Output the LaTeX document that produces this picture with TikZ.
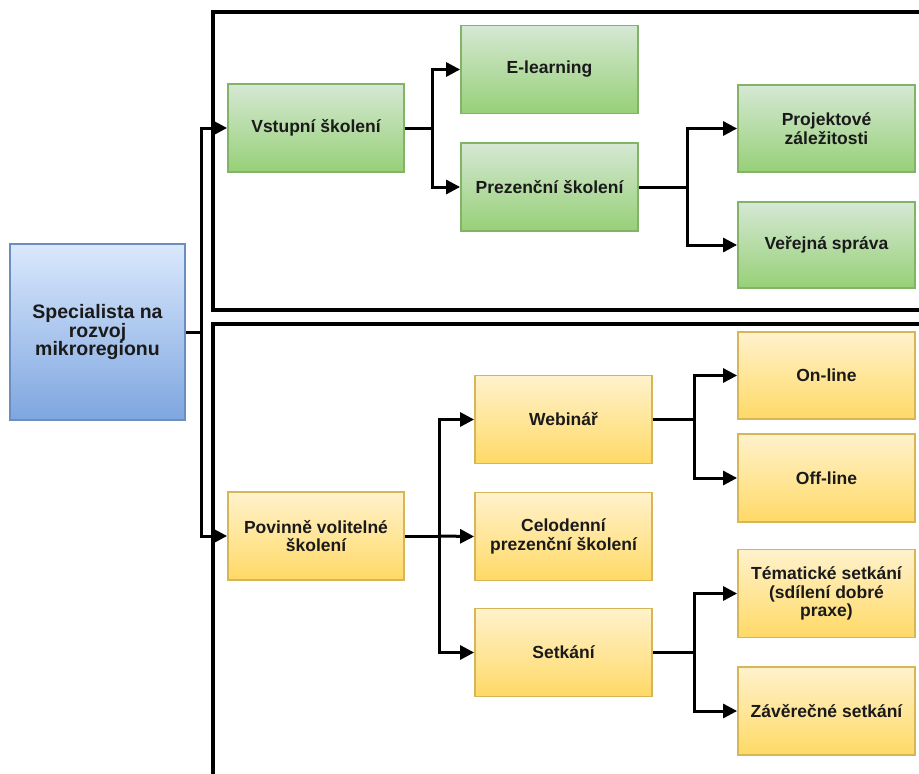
\documentclass[tikz,border=0pt]{standalone}
\usepackage{fontspec}
\setmainfont{Liberation Sans}
\usetikzlibrary{arrows.meta,positioning}
\definecolor{gtop}{HTML}{D5E8D4}
\definecolor{gbot}{HTML}{97D077}
\definecolor{gline}{HTML}{82B366}
\definecolor{ytop}{HTML}{FFF2CC}
\definecolor{ybot}{HTML}{FFD966}
\definecolor{yline}{HTML}{D6B656}
\definecolor{btop}{HTML}{DAE8FC}
\definecolor{bbot}{HTML}{7EA6E0}
\definecolor{bline}{HTML}{6C8EBF}
\definecolor{txt}{HTML}{1A1A1A}
\tikzset{
  boxbase/.style={draw, line width=1.8pt, minimum width=177pt, minimum height=88pt,
    align=center, inner sep=2pt, text=txt,
    font=\fontsize{17.5}{18.5}\selectfont\bfseries},
  greenbox/.style={boxbase, draw=gline, top color=gtop, bottom color=gbot},
  yellowbox/.style={boxbase, draw=yline, top color=ytop, bottom color=ybot},
  bluebox/.style={boxbase, draw=bline, top color=btop, bottom color=bbot},
  conn/.style={line width=3pt, draw=black},
  arr/.style={conn, -{Triangle[length=14pt,width=14pt]}},
  frameline/.style={line width=3.4pt, draw=black},
}
\begin{document}
\begin{tikzpicture}[x=1pt,y=-1pt]
\useasboundingbox[fill=white] (0,0) rectangle (919,774);
% frames
\draw[frameline] (919,12) -- (213,12) -- (213,310) -- (919,310);
\draw[frameline] (919,324) -- (213,324) -- (213,776);
% nodes
\node[bluebox, minimum width=175pt, minimum height=176pt, font=\fontsize{19.5}{18.5}\selectfont\bfseries] (spec) at (97.5,332) {Specialista na\\rozvoj\\mikroregionu};
\node[greenbox, minimum width=176pt] (vst) at (316,128) {Vstupní školení};
\node[greenbox] (elearn) at (549.5,69.5) {E-learning};
\node[greenbox] (prez) at (549.5,187) {Prezenční školení};
\node[greenbox, minimum height=87pt] (proj) at (826.5,128.5) {Projektové\\záležitosti};
\node[greenbox, minimum height=86pt] (vere) at (826.5,245) {Veřejná správa};
\node[yellowbox, minimum width=176pt] (pov) at (316,536) {Povinně volitelné\\školení};
\node[yellowbox] (web) at (563.5,419.5) {Webinář};
\node[yellowbox] (celo) at (563.5,536.5) {Celodenní\\prezenční školení};
\node[yellowbox] (setk) at (563.5,652.5) {Setkání};
\node[yellowbox, minimum height=87pt] (online) at (826.5,375.5) {On-line};
\node[yellowbox] (offline) at (826.5,478) {Off-line};
\node[yellowbox] (tema) at (826.5,593.5) {Tématické setkání\\(sdílení dobré\\praxe)};
\node[yellowbox] (zav) at (826.5,711) {Závěrečné setkání};
% branch points
\coordinate (b0) at (201,332);
\coordinate (b1) at (432,128);
\coordinate (b2) at (687,187);
\coordinate (b3) at (439,536);
\coordinate (b4) at (694,419.5);
\coordinate (b5) at (694,652.5);
% connectors
\draw[conn] (spec.east) -- (b0);
\draw[arr] (b0) |- (vst.west);
\draw[arr] (b0) |- (pov.west);
\draw[conn] (vst.east) -- (b1);
\draw[arr] (b1) |- (elearn.west);
\draw[arr] (b1) |- (prez.west);
\draw[conn] (prez.east) -- (b2);
\draw[arr] (b2) |- (proj.west);
\draw[arr] (b2) |- (vere.west);
\draw[conn] (pov.east) -- (b3);
\draw[arr] (b3) |- (web.west);
\draw[arr] (b3) -- (celo.west);
\draw[arr] (b3) |- (setk.west);
\draw[conn] (web.east) -- (b4);
\draw[arr] (b4) |- (online.west);
\draw[arr] (b4) |- (offline.west);
\draw[conn] (setk.east) -- (b5);
\draw[arr] (b5) |- (tema.west);
\draw[arr] (b5) |- (zav.west);
\end{tikzpicture}
\end{document}
